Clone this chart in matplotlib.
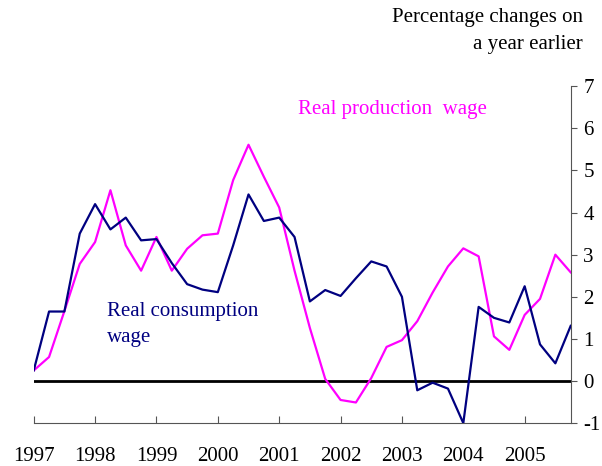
import matplotlib
matplotlib.use("Agg")
import matplotlib.pyplot as plt
import numpy as np

# quarterly, 1997Q1 .. 2005Q4
YEARS = ["1997", "1998", "1999", "2000", "2001", "2002", "2003", "2004", "2005"]

CONSUMPTION = [
    0.25, 1.65, 1.65, 3.50, 4.20, 3.60, 3.88, 3.34, 3.37, 2.80, 2.30, 2.17,
    2.11, 3.22, 4.43, 3.80, 3.88, 3.42, 1.89, 2.16, 2.02, 2.44, 2.84, 2.72,
    2.00, -0.22, -0.04, -0.18, -1.00, 1.76, 1.50, 1.39, 2.25, 0.87, 0.42, 1.31,
]
PRODUCTION = [
    0.25, 0.57, 1.66, 2.78, 3.30, 4.53, 3.22, 2.62, 3.42, 2.62, 3.14, 3.46,
    3.50, 4.77, 5.61, 4.85, 4.12, 2.62, 1.26, 0.05, -0.45, -0.51, 0.07, 0.81,
    0.97, 1.42, 2.10, 2.72, 3.15, 2.96, 1.06, 0.74, 1.57, 1.95, 3.00, 2.58,
]

NAVY = "#000080"
MAGENTA = "#ff00ff"

plt.rcParams.update({
    "font.family": ["Liberation Serif", "DejaVu Serif"],
    "font.size": 15,
    "axes.unicode_minus": False,
})

fig = plt.figure(figsize=(6.02, 4.66), dpi=100)
ax = fig.add_axes([0.056, 0.092, 0.892, 0.723])

x = np.arange(len(CONSUMPTION))
ax.axhline(0, color="black", lw=2.0, zorder=1)
ax.plot(x, CONSUMPTION, color=NAVY, lw=1.6, zorder=3)
ax.plot(x, PRODUCTION, color=MAGENTA, lw=1.6, zorder=2)

ax.set_xlim(0, len(CONSUMPTION) - 1)
ax.set_ylim(-1, 7)
ax.set_xticks(np.arange(0, 36, 4), YEARS)
ax.set_yticks(np.arange(-1, 8))

ax.spines["top"].set_visible(False)
ax.spines["left"].set_visible(False)
ax.spines["bottom"].set_color("#555555")
ax.spines["right"].set_color("#555555")
ax.yaxis.tick_right()
ax.tick_params(axis="y", direction="out", length=4, color="#555555", pad=5)
ax.tick_params(axis="x", direction="in", length=5, color="#555555", pad=17)

ax.text(0.492, 0.932, "Real production  wage", transform=ax.transAxes,
        color=MAGENTA, fontsize=15, ha="left", va="center")
ax.text(0.137, 0.292, "Real consumption\nwage", transform=ax.transAxes,
        color=NAVY, fontsize=15, ha="left", va="center", linespacing=1.5)
fig.text(0.968, 0.983, "Percentage changes on\na year earlier", ha="right",
         va="top", fontsize=15, linespacing=1.6)

fig.savefig("out.png", dpi=100)
